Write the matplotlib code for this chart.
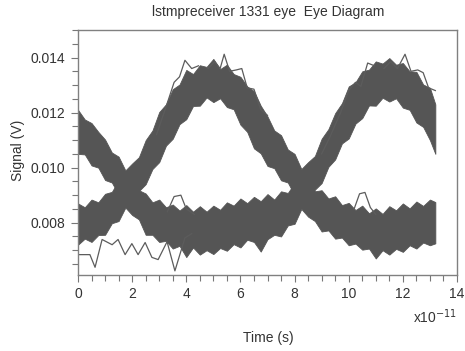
"""Eye diagram of the receiver node: upper/lower signal bands with a few stray traces."""
import numpy as np
import matplotlib
matplotlib.use('Agg')
import matplotlib.pyplot as plt

plt.rcParams['font.family'] = ['Liberation Sans', 'DejaVu Sans']

# time samples (units of 1e-11 s)
t_grid = [0.0, 0.25, 0.5, 0.75, 1.0, 1.25, 1.5, 1.75, 2.0, 2.25, 2.5, 2.75, 3.0,
          3.25, 3.5, 3.75, 4.0, 4.25, 4.5, 4.75, 5.0, 5.25, 5.5, 5.75, 6.0, 6.25,
          6.5, 6.75, 7.0, 7.25, 7.5, 7.75, 8.0, 8.25, 8.5, 8.75, 9.0, 9.25, 9.5,
          9.75, 10.0, 10.25, 10.5, 10.75, 11.0, 11.25, 11.5, 11.75, 12.0, 12.25,
          12.5, 12.75, 13.0, 13.2]

# band envelopes (mV)
upper_lo = [10.50, 10.48, 10.08, 10.00, 9.55, 9.46, 9.02, 8.85, 8.75, 9.15, 9.40,
            9.95, 10.20, 10.80, 11.05, 11.58, 11.76, 12.24, 12.25, 12.55, 12.38,
            12.52, 12.20, 12.12, 11.56, 11.30, 10.70, 10.52, 10.06, 9.98, 9.54,
            9.46, 9.00, 8.85, 8.78, 9.20, 9.44, 10.03, 10.30, 10.88, 11.06, 11.60,
            11.80, 12.26, 12.25, 12.54, 12.40, 12.52, 12.18, 12.10, 11.64, 11.48,
            11.00, 10.50]
upper_hi = [12.10, 11.75, 11.62, 11.30, 11.02, 10.55, 10.40, 9.90, 10.15, 10.38,
            11.00, 11.35, 12.02, 12.30, 12.85, 13.02, 13.55, 13.40, 13.72, 13.66,
            13.95, 13.58, 13.74, 13.40, 13.30, 12.95, 12.78, 12.25, 11.86, 11.35,
            11.18, 10.66, 10.50, 9.95, 10.20, 10.42, 11.05, 11.40, 11.98, 12.34,
            12.95, 13.10, 13.50, 13.56, 13.86, 13.78, 13.98, 13.74, 13.80, 13.50,
            13.48, 13.02, 12.90, 12.30]
lower_lo = [7.20, 7.42, 7.30, 7.55, 7.56, 7.98, 8.06, 8.55, 8.28, 8.12, 7.56,
            7.56, 7.30, 7.34, 7.06, 7.16, 6.75, 7.10, 6.84, 7.00, 6.86, 7.08,
            6.98, 7.22, 7.10, 7.38, 7.30, 6.95, 7.40, 7.56, 7.50, 7.90, 7.96,
            8.50, 8.22, 8.06, 7.68, 7.72, 7.42, 7.46, 7.18, 7.24, 7.02, 7.06,
            6.70, 7.00, 6.84, 7.05, 6.94, 7.18, 7.06, 7.28, 7.18, 7.25]
lower_hi = [8.70, 8.56, 8.84, 8.74, 9.05, 9.12, 9.54, 9.65, 9.66, 9.18, 9.06,
            8.74, 8.84, 8.56, 8.66, 8.44, 8.64, 8.40, 8.60, 8.40, 8.62, 8.47,
            8.74, 8.62, 8.88, 8.71, 8.94, 8.78, 9.04, 8.84, 9.14, 9.08, 9.44,
            9.62, 9.60, 9.14, 9.18, 8.88, 8.96, 8.64, 8.72, 8.46, 8.62, 8.34,
            8.52, 8.32, 8.60, 8.45, 8.70, 8.52, 8.77, 8.61, 8.84, 8.75]

# stray traces (t in 1e-11 s, v in mV)
low_t = [0.0, 0.44, 0.63, 0.89, 1.26, 1.48, 1.74, 1.99, 2.22, 2.48, 2.73, 2.96,
         3.29, 3.58, 3.95, 4.2]
low_v = [6.84, 6.84, 6.38, 7.39, 7.20, 7.39, 6.84, 7.24, 6.84, 7.28, 6.74, 6.66,
         7.31, 6.25, 7.45, 7.60]
lead1_t = [2.9, 3.25, 3.55, 3.75, 3.95, 4.2, 4.45]
lead1_v = [11.2, 12.2, 13.1, 13.3, 13.9, 13.6, 13.7]
lag1_t = [4.8, 5.05, 5.25, 5.4, 5.6, 5.85, 6.05, 6.25, 6.5, 6.75, 7.0]
lag1_v = [13.6, 13.85, 13.6, 14.12, 13.5, 13.55, 13.6, 12.9, 12.85, 12.1, 11.9]
lead2_t = [9.0, 9.3, 9.7, 10.0, 10.25, 10.45, 10.7, 10.95]
lead2_v = [10.5, 11.1, 12.0, 12.8, 13.1, 12.95, 13.8, 13.7]
lag2_t = [11.3, 11.55, 11.8, 12.08, 12.3, 12.55, 12.75, 12.95, 13.2]
lag2_v = [13.6, 13.85, 13.6, 14.12, 13.5, 13.55, 13.45, 12.9, 12.8]
bump1_t = [3.3, 3.55, 3.8, 4.0, 4.3]
bump1_v = [8.4, 8.95, 9.0, 8.5, 8.3]
bump2_t = [10.2, 10.4, 10.6, 10.8, 11.0]
bump2_v = [8.5, 9.05, 9.1, 8.55, 8.3]

x_ticks = [0, 2, 4, 6, 8, 10, 12, 14]
y_ticks = [0.008, 0.010, 0.012, 0.014]

TRACE = '#555555'
fig = plt.figure(figsize=(4.65, 3.51), dpi=100)
ax = fig.add_axes([78 / 465, 1 - 275 / 351, 379 / 465, 245 / 351])

t = np.array(t_grid)
mv = 1e-3
for lo, hi in ((upper_lo, upper_hi), (lower_lo, lower_hi)):
    ax.fill_between(t, np.array(lo) * mv, np.array(hi) * mv, color=TRACE,
                    edgecolor=TRACE, lw=0.6)
for tt, vv in ((low_t, low_v), (lead1_t, lead1_v), (lag1_t, lag1_v),
               (lead2_t, lead2_v), (lag2_t, lag2_v), (bump1_t, bump1_v),
               (bump2_t, bump2_v)):
    ax.plot(tt, np.array(vv) * mv, color='#5c5c5c', lw=0.9)

ax.set_xlim(0, 14)
ax.set_ylim(0.0061, 0.0150)
ax.set_xticks(x_ticks)
ax.set_xticks(np.arange(0, 14.01, 0.5), minor=True)
ax.set_yticks(y_ticks)
ax.set_yticklabels([f'{v:.3f}' for v in y_ticks])
ax.set_yticks(np.arange(0.0065, 0.01501, 0.0005), minor=True)
ax.tick_params(which='both', direction='out', color='#777777', width=0.8,
               labelsize=10, labelcolor='#333333', top=False, right=False)
ax.tick_params(which='major', length=5, pad=4)
ax.tick_params(which='minor', length=4)
for s in ax.spines.values():
    s.set_color('#808080')
    s.set_linewidth(1.0)

fig.text(457 / 465, 1 - 317 / 351, r'x10$^{-11}$', ha='right', va='center',
         fontsize=10, color='#333333')
fig.text(268 / 465, 1 - 338 / 351, 'Time (s)', ha='center', va='center',
         fontsize=10, color='#333333')
fig.text(18 / 465, 1 - 150 / 351, 'Signal (V)', ha='center', va='center',
         rotation=90, fontsize=10, color='#333333')
fig.text(268 / 465, 1 - 16 / 351, 'lstmpreceiver 1331 eye  Eye Diagram',
         ha='center', va='baseline', fontsize=10, color='#333333')

fig.savefig('out.png', dpi=100)
